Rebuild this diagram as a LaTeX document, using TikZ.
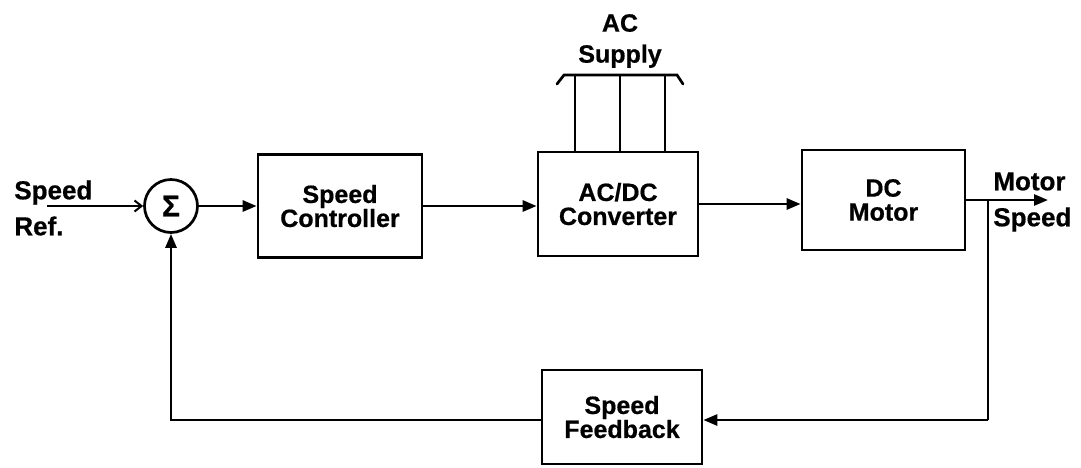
\documentclass[tikz,border=0pt]{standalone}
\usepackage{fontspec}
\setmainfont{Liberation Sans}[FakeBold=0.6]
\usetikzlibrary{arrows.meta}
\begin{document}
\begin{tikzpicture}[x=1pt,y=-1pt,line width=2.7pt,
  blk/.style={draw,line width=2.7pt,inner sep=0pt,align=center,
    font=\fontsize{25}{24}\selectfont\bfseries},
  lbl/.style={inner sep=0pt,font=\fontsize{26}{36}\selectfont\bfseries},
  sig/.style={-{Triangle[length=14pt,width=11pt]},line width=2.7pt},
  open/.style={-{Straight Barb[length=7pt,width=11pt,line width=2pt]},line width=2.7pt}]
\useasboundingbox (0,0) rectangle (1081,467);
% blocks
\node[draw,circle,line width=2.7pt,minimum size=53pt,inner sep=0pt,
  font=\fontsize{30}{30}\selectfont\bfseries] (sum) at (171,206) {Σ};
\node[blk,minimum width=164pt,minimum height=103pt] (ctrl) at (340,206) {Speed\\Controller};
\node[blk,minimum width=160pt,minimum height=104pt] (conv) at (618,204) {AC/DC\\Converter};
\node[blk,minimum width=163pt,minimum height=100pt] (motor) at (883.5,200) {DC\\Motor};
\node[blk,minimum width=160pt,minimum height=94pt] (fb) at (622,417) {Speed\\Feedback};
% labels
\node[lbl,align=left,anchor=west] (ref) at (13,208) {Speed\\Ref.};
\node[lbl,align=left,anchor=west] (ms) at (992,202) {Motor\\Speed};
\node[lbl,align=center,font=\fontsize{25}{31}\selectfont\bfseries] (ac) at (620,41) {AC\\Supply};
% coordinates
\coordinate (in) at (47,206);
\coordinate (out) at (1048,200);
\coordinate (br) at (988,200);
\coordinate (brb) at (988,420);
\coordinate (s1) at (575,75);
\coordinate (s2) at (620,75);
\coordinate (s3) at (665,75);
\coordinate (bl) at (557,84);
\coordinate (br1) at (564,75);
\coordinate (br2) at (677,75);
\coordinate (br3) at (683,84);
% connectors
\draw[open] (in) -- (sum.west);
\draw[sig] (sum.east) -- (ctrl.west |- sum.east);
\draw[sig] (ctrl.east) -- (ctrl.east -| conv.west);
\draw[sig] (conv.east) -- (conv.east -| motor.west);
\draw[sig] (motor.east) -- (out);
\draw (br) -- (brb);
\draw[sig] (brb) -- (brb -| fb.east);
\draw[sig] (fb.west |- brb) -- (sum.south |- brb) -- (sum.south);
\draw (s1) -- (s1 |- conv.north);
\draw (s2) -- (s2 |- conv.north);
\draw (s3) -- (s3 |- conv.north);
\draw[line cap=round] (bl) -- (br1) -- (br2) -- (br3);
\end{tikzpicture}
\end{document}
